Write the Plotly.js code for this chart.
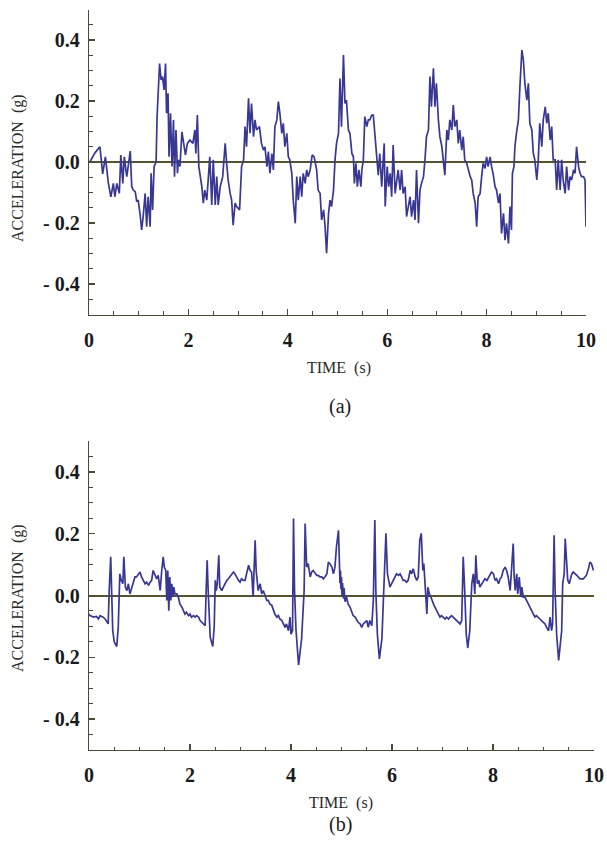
<!DOCTYPE html>
<html>
<head>
<meta charset="utf-8">
<script src="https://cdn.plot.ly/plotly-3.0.1.min.js"></script>
<style>
  html, body { margin: 0; padding: 0; background: #ffffff; }
  #chart { width: 607px; height: 844px; }
</style>
</head>
<body>
<div id="chart"></div>
<script>
// ---- Data ----
// Panel (a): time (s) and acceleration (g)
const timeA = [0.00,0.02,0.12,0.22,0.275,0.33,0.39,0.44,0.49,0.52,0.56,0.61,0.64,0.68,0.71,0.76,0.83,0.86,0.89,0.93,0.96,0.99,1.03,1.06,1.09,1.13,1.16,1.19,1.23,1.25,1.28,1.31,1.35,1.37,1.42,1.45,1.48,1.51,1.54,1.56,1.59,1.61,1.64,1.67,1.70,1.72,1.75,1.78,1.80,1.83,1.87,1.90,1.94,1.98,2.03,2.09,2.13,2.15,2.18,2.21,2.23,2.27,2.30,2.33,2.37,2.40,2.43,2.47,2.50,2.54,2.57,2.60,2.64,2.69,2.74,2.77,2.80,2.84,2.87,2.90,2.94,2.97,3.03,3.07,3.11,3.14,3.17,3.21,3.24,3.27,3.31,3.34,3.37,3.43,3.47,3.51,3.54,3.58,3.61,3.64,3.68,3.71,3.74,3.78,3.81,3.84,3.88,3.91,3.94,3.98,4.01,4.04,4.08,4.11,4.15,4.18,4.21,4.25,4.28,4.31,4.35,4.38,4.41,4.45,4.49,4.53,4.58,4.61,4.65,4.68,4.72,4.75,4.78,4.82,4.85,4.88,4.92,
  4.95,4.98,5.02,5.05,5.08,5.12,5.15,5.18,5.22,5.25,5.29,5.32,5.34,5.37,5.40,5.43,5.47,5.49,5.52,5.55,5.59,5.62,5.65,5.69,5.72,5.75,5.79,5.82,5.85,5.89,5.92,5.94,5.96,6.00,6.03,6.06,6.09,6.12,6.16,6.19,6.22,6.26,6.29,6.32,6.36,6.39,6.43,6.46,6.49,6.53,6.56,6.59,6.63,6.66,6.69,6.73,6.76,6.79,6.83,6.86,6.89,6.93,6.96,6.99,7.03,7.06,7.10,7.13,7.16,7.20,7.23,7.26,7.30,7.33,7.36,7.40,7.43,7.46,7.50,7.53,7.56,7.60,7.63,7.67,7.70,7.73,7.77,7.80,7.83,7.87,7.90,7.93,7.97,8.00,8.03,8.07,8.10,8.13,8.17,8.20,8.24,8.27,8.30,8.34,8.37,8.40,8.44,8.47,8.50,8.52,8.55,8.57,8.60,8.64,8.67,8.71,8.74,8.77,8.81,8.84,8.87,8.91,8.94,8.97,9.01,9.04,9.07,9.11,9.14,9.18,9.21,9.24,9.28,9.31,9.34,9.38,9.41,9.44,9.48,9.51,9.54,9.58,9.61,9.65,9.68,9.71,9.75,9.78,9.81,9.85,9.88,9.91,9.95,9.98,10.0];
const accA = [0.000,0.001,0.030,0.050,-0.039,0.017,-0.070,-0.114,-0.070,-0.114,-0.070,-0.103,0.023,-0.070,0.017,-0.048,0.036,-0.081,-0.092,-0.097,-0.130,-0.125,-0.174,-0.223,-0.179,-0.103,-0.212,-0.114,-0.212,-0.037,-0.157,-0.015,0.001,0.149,0.323,0.269,0.280,0.236,0.323,0.160,0.225,0.017,0.160,-0.015,0.138,-0.048,0.105,-0.037,0.007,-0.015,0.099,0.072,0.023,0.061,0.072,0.061,0.105,0.028,0.154,-0.015,-0.037,-0.081,-0.135,-0.092,-0.125,-0.037,0.017,-0.141,0.007,-0.141,-0.048,-0.141,-0.081,-0.048,0.061,-0.004,-0.059,-0.103,-0.125,-0.207,-0.135,-0.146,-0.157,-0.015,0.007,0.116,0.050,0.209,0.094,0.192,0.083,0.138,0.105,0.116,0.061,0.039,0.050,-0.015,0.034,-0.037,0.028,-0.026,0.116,0.138,0.198,0.160,0.094,0.127,0.050,0.094,0.017,0.007,-0.037,-0.125,-0.201,-0.048,-0.125,-0.048,-0.114,-0.037,-0.070,-0.026,-0.048,-0.026,0.023,0.017,-0.026,-0.092,-0.103,-0.190,-0.157,-0.212,-0.299,-0.168,-0.125,-0.146,-0.092,
  0.007,0.061,0.094,0.274,0.116,0.351,0.192,0.203,0.105,0.094,0.028,0.017,-0.070,-0.004,-0.081,-0.026,-0.081,-0.026,0.007,0.149,0.116,0.138,0.138,0.154,0.154,0.094,0.039,-0.043,0.028,-0.081,0.007,0.061,-0.146,-0.015,-0.081,-0.037,-0.114,0.056,-0.103,-0.059,-0.026,-0.092,-0.026,-0.103,-0.081,-0.179,-0.146,-0.114,-0.179,-0.125,-0.190,-0.026,-0.201,-0.092,-0.070,-0.048,0.007,0.083,0.105,0.280,0.181,0.307,0.181,0.258,0.138,0.083,0.050,0.007,-0.043,0.105,0.072,0.138,0.105,0.187,0.116,0.138,0.061,0.105,0.039,0.083,0.007,-0.004,-0.026,-0.048,-0.059,-0.103,-0.135,-0.212,-0.114,-0.103,-0.048,-0.004,-0.021,0.017,-0.015,0.017,-0.015,-0.037,-0.081,-0.092,-0.135,-0.103,-0.234,-0.168,-0.256,-0.201,-0.267,-0.146,-0.223,-0.037,-0.015,0.050,0.094,0.138,0.247,0.367,0.334,0.258,0.203,0.258,0.127,0.105,0.028,0.007,-0.059,0.007,0.127,0.050,0.138,0.181,0.127,0.160,0.072,0.116,0.007,0.007,-0.092,0.007,-0.092,0.007,-0.059,-0.103,-0.015,-0.092,-0.048,-0.059,-0.026,-0.037,0.050,-0.015,-0.037,-0.048,-0.048,-0.059,-0.212];

// Panel (b): time (s) and acceleration (g)
const timeB = [0.00,0.02,0.09,0.15,0.185,0.22,0.25,0.28,0.32,0.38,0.40,0.43,0.45,0.47,0.50,0.55,0.58,0.60,0.61,0.64,0.67,0.69,0.72,0.75,0.78,0.81,0.85,0.88,0.91,0.94,0.98,1.01,1.04,1.08,1.11,1.14,1.18,1.21,1.24,1.27,1.31,1.34,1.37,1.41,1.44,1.47,1.49,1.52,1.54,1.56,1.58,1.60,1.62,1.64,1.66,1.68,1.70,1.74,1.77,1.80,1.84,1.87,1.90,1.93,1.97,2.00,2.03,2.07,2.10,2.13,2.17,2.20,2.23,2.26,2.30,2.32,2.34,2.36,2.40,2.45,2.48,2.50,2.52,2.54,2.57,2.59,2.63,2.66,2.69,2.73,2.76,2.79,2.83,2.86,2.89,2.92,2.96,2.99,3.02,3.06,3.09,3.12,3.16,3.19,3.22,3.25,3.29,3.31,3.33,3.35,3.39,3.42,3.45,3.49,3.52,3.55,3.58,3.62,3.65,3.68,3.72,3.75,3.78,3.82,3.85,3.88,3.91,3.95,3.98,4.00,4.03,4.05,4.07,4.10,4.15,4.21,4.26,4.28,4.31,4.34,4.38,4.41,4.44,4.48,4.51,4.54,4.57,4.61,4.64,4.67,4.71,4.74,
  4.77,4.81,4.84,4.87,4.90,4.94,4.96,4.97,4.98,4.99,5.00,5.01,5.02,5.04,5.05,5.07,5.10,5.13,5.17,5.20,5.23,5.27,5.30,5.33,5.37,5.40,5.43,5.47,5.50,5.53,5.56,5.60,5.63,5.66,5.68,5.71,5.75,5.80,5.84,5.88,5.91,5.93,5.96,5.99,6.03,6.06,6.09,6.13,6.16,6.19,6.22,6.26,6.29,6.32,6.36,6.39,6.42,6.46,6.49,6.52,6.55,6.58,6.61,6.63,6.66,6.69,6.71,6.74,6.77,6.79,6.82,6.85,6.88,6.92,6.95,6.98,7.02,7.05,7.08,7.12,7.15,7.18,7.21,7.25,7.28,7.31,7.35,7.38,7.41,7.44,7.47,7.50,7.54,7.58,7.61,7.64,7.66,7.69,7.72,7.74,7.78,7.81,7.84,7.88,7.91,7.94,7.97,8.01,8.04,8.07,8.11,8.14,8.17,8.20,8.24,8.27,8.30,8.34,8.37,8.40,8.42,8.44,8.47,8.49,8.52,8.55,8.57,8.60,8.63,8.67,8.70,8.73,8.77,8.80,8.83,8.86,8.90,8.93,8.96,9.00,9.03,9.06,9.10,9.13,9.16,9.18,9.21,9.23,9.26,9.30,9.34,9.36,9.38,9.41,9.43,9.46,9.48,9.51,9.54,9.56,9.59,9.62,9.66,9.69,9.72,9.76,9.79,9.82,9.85,9.89,9.92,9.95,9.99];
const accB = [-0.060,-0.065,-0.070,-0.068,-0.076,-0.065,-0.068,-0.070,-0.076,-0.092,0.016,0.125,0.005,-0.114,-0.150,-0.165,-0.100,0.016,0.070,0.049,0.038,0.125,0.027,0.016,0.038,0.005,0.027,0.049,0.060,0.060,0.070,0.076,0.060,0.049,0.038,0.043,0.033,0.043,0.049,0.081,0.065,0.054,0.065,0.016,0.081,0.125,0.092,0.081,-0.016,0.081,-0.049,0.060,-0.016,0.038,-0.005,0.027,0.005,0.005,-0.005,-0.027,-0.038,-0.049,-0.060,-0.054,-0.065,-0.060,-0.070,-0.065,-0.070,-0.065,-0.070,-0.081,-0.087,-0.092,-0.098,0.016,0.114,0.016,-0.135,-0.165,-0.100,0.049,0.016,0.038,0.130,0.027,0.016,0.027,0.038,0.049,0.054,0.060,0.070,0.076,0.070,0.060,0.049,0.043,0.054,0.049,0.049,0.070,0.098,0.081,0.076,-0.005,0.179,0.081,0.049,0.016,0.038,0.005,0.016,-0.005,-0.016,-0.016,-0.027,-0.032,-0.049,-0.060,-0.070,-0.065,-0.076,-0.081,-0.092,-0.103,-0.092,-0.114,-0.070,-0.125,-0.114,0.249,0.016,-0.114,-0.225,-0.140,0.016,0.233,0.092,0.103,0.060,0.076,0.081,0.070,0.065,0.065,0.060,0.060,0.054,0.060,0.070,0.108,
  0.103,0.092,0.070,0.092,0.157,0.211,0.092,0.040,0.081,0.020,0.060,0.000,0.040,-0.010,0.025,-0.020,-0.005,-0.027,-0.038,-0.049,-0.065,-0.070,-0.081,-0.087,-0.092,-0.103,-0.092,-0.087,-0.081,-0.103,-0.081,-0.098,-0.016,0.244,0.016,-0.125,-0.205,-0.140,0.016,0.201,0.070,0.049,0.027,0.038,0.049,0.060,0.070,0.065,0.070,0.060,0.049,0.049,0.043,0.049,0.081,0.070,0.087,0.060,0.049,0.060,0.179,0.201,0.081,0.103,0.016,-0.060,0.027,0.005,-0.005,-0.016,-0.027,-0.038,-0.049,-0.060,-0.070,-0.065,-0.070,-0.076,-0.070,-0.076,-0.070,-0.065,-0.070,-0.076,-0.081,-0.087,-0.092,-0.081,0.125,0.016,-0.125,-0.170,-0.114,0.038,0.070,0.005,0.130,0.038,0.049,0.027,0.038,0.049,0.054,0.049,0.060,0.070,0.076,0.070,0.049,0.054,0.038,0.054,0.060,0.081,0.092,0.081,0.060,0.016,0.114,0.168,0.060,0.016,0.070,0.005,0.060,-0.005,0.027,-0.005,-0.005,-0.016,-0.027,-0.038,-0.049,-0.060,-0.070,-0.065,-0.070,-0.076,-0.081,-0.087,-0.092,-0.103,-0.114,-0.070,-0.114,-0.092,0.195,0.016,-0.125,-0.210,-0.150,-0.114,0.038,0.070,0.184,0.070,0.049,0.038,0.060,0.070,0.076,0.070,0.065,0.060,0.054,0.054,0.054,0.060,0.065,0.087,0.108,0.103,0.081];

// Tick labels
const xTickVals = [0, 2, 4, 6, 8, 10];
const xTickText = ["0", "2", "4", "6", "8", "10"];
const yTickVals = [-0.4, -0.2, 0.0, 0.2, 0.4];
const yTickText = ["- 0.4", "- 0.2", "0.0", "0.2", "0.4"];

// Text
const yTitle = "ACCELERATION\u00a0 (g)";
const xTitle = "TIME\u00a0 (s)";
const panelLabels = ["(a)", "(b)"];

// ---- Styling ----
const W = 607, H = 844;
const lineColor = "#383894";
const axisColor = "#4a4a38";
const zeroColor = "#56542e";
const serif = "Liberation Serif";
const tickFont = { family: serif, size: 20, color: "#1a1a1a", weight: "bold" };
const labelFont = { family: serif, size: 16, color: "#2a2a2a" };

function px2x(p) { return p / W; }
function px2y(p) { return (H - p) / H; }

function xAxis(domainRightPx, anchor) {
  return {
    domain: [px2x(89), px2x(domainRightPx)],
    anchor: anchor,
    range: [0, 10],
    showline: true, linecolor: axisColor, linewidth: 1.3,
    showgrid: false, zeroline: false,
    ticks: "inside", ticklen: 6, tickwidth: 1.2, tickcolor: axisColor,
    tickmode: "array", tickvals: xTickVals, ticktext: xTickText,
    tickfont: tickFont, ticklabelstandoff: 7,
    minor: { tickmode: "linear", tick0: 0, dtick: 0.5, ticks: "inside", ticklen: 3.5, tickwidth: 1, tickcolor: axisColor, showgrid: false },
    fixedrange: true
  };
}
function yAxis(topPx, bottomPx, anchor) {
  return {
    domain: [px2y(bottomPx), px2y(topPx)],
    anchor: anchor,
    range: [-0.5, 0.5],
    showline: true, linecolor: axisColor, linewidth: 1.3,
    showgrid: false,
    zeroline: true, zerolinecolor: zeroColor, zerolinewidth: 2,
    ticks: "inside", ticklen: 6, tickwidth: 1.2, tickcolor: axisColor,
    tickmode: "array", tickvals: yTickVals, ticktext: yTickText,
    tickfont: tickFont, ticklabelstandoff: 4,
    minor: { tickmode: "linear", tick0: 0, dtick: 0.05, ticks: "inside", ticklen: 3.5, tickwidth: 1, tickcolor: axisColor, showgrid: false },
    fixedrange: true
  };
}

const traces = [
  { x: timeA, y: accA, type: "scatter", mode: "lines", xaxis: "x", yaxis: "y",
    line: { color: lineColor, width: 1.7 }, hoverinfo: "skip" },
  { x: timeB, y: accB, type: "scatter", mode: "lines", xaxis: "x2", yaxis: "y2",
    line: { color: lineColor, width: 1.7 }, hoverinfo: "skip" }
];

const layout = {
  width: W, height: H,
  margin: { l: 0, r: 0, t: 0, b: 0, pad: 0 },
  paper_bgcolor: "#ffffff", plot_bgcolor: "#ffffff",
  showlegend: false,
  xaxis: xAxis(586, "y"),
  yaxis: yAxis(9.5, 314.5, "x"),
  xaxis2: xAxis(594, "y2"),
  yaxis2: yAxis(441, 750, "x2"),
  annotations: [
    { xref: "paper", yref: "paper", x: px2x(18), y: px2y(168), text: yTitle, textangle: -90,
      showarrow: false, xanchor: "center", yanchor: "middle", font: labelFont },
    { xref: "paper", yref: "paper", x: px2x(18), y: px2y(598), text: yTitle, textangle: -90,
      showarrow: false, xanchor: "center", yanchor: "middle", font: labelFont },
    { xref: "paper", yref: "paper", x: px2x(339), y: px2y(368), text: xTitle,
      showarrow: false, xanchor: "center", yanchor: "middle", font: labelFont },
    { xref: "paper", yref: "paper", x: px2x(341), y: px2y(803), text: xTitle,
      showarrow: false, xanchor: "center", yanchor: "middle", font: labelFont },
    { xref: "paper", yref: "paper", x: px2x(340), y: px2y(406), text: panelLabels[0],
      showarrow: false, xanchor: "center", yanchor: "middle",
      font: { family: serif, size: 20, color: "#1a1a1a" } },
    { xref: "paper", yref: "paper", x: px2x(340), y: px2y(824), text: panelLabels[1],
      showarrow: false, xanchor: "center", yanchor: "middle",
      font: { family: serif, size: 20, color: "#1a1a1a" } }
  ]
};

Plotly.newPlot("chart", traces, layout, { staticPlot: true, displayModeBar: false });
</script>
</body>
</html>
